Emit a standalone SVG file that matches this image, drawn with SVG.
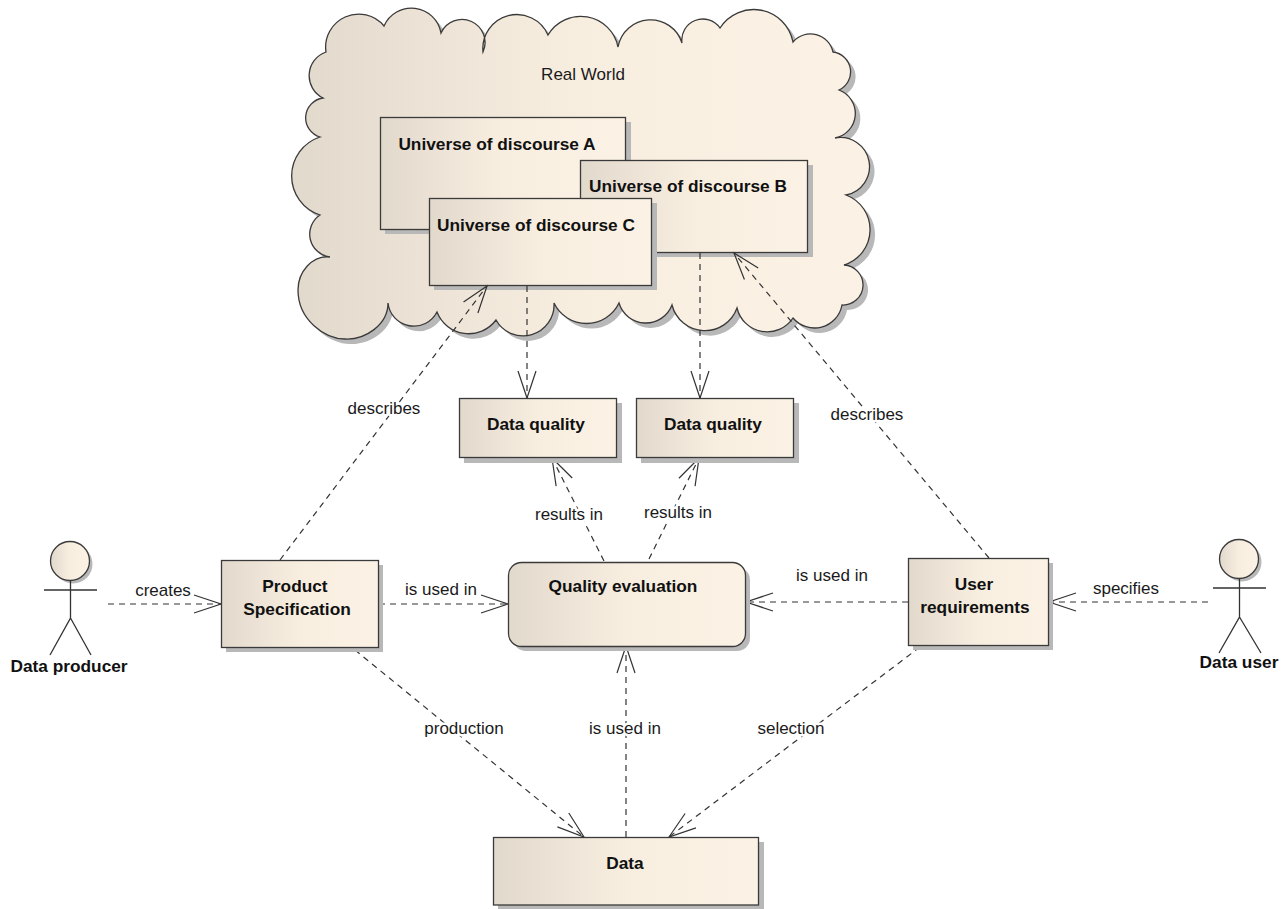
<svg xmlns="http://www.w3.org/2000/svg" width="1283" height="909" viewBox="0 0 1283 909">
<style>
text{font-family:"Liberation Sans",Arial,sans-serif;font-size:17px;fill:#1a1a1a;text-anchor:middle}
.b{font-weight:bold;font-size:17.3px;fill:#111}
.box{fill:url(#g);stroke:#3a3a3a;stroke-width:1.3}
.sh{fill:#b8b8b8;stroke:none}
.c{fill:none;stroke:#333;stroke-width:1.2;stroke-dasharray:6 5;marker-end:url(#arrow)}
.l{paint-order:stroke;stroke:#fff;stroke-width:5px;stroke-linejoin:round}
.a{fill:none;stroke:#333;stroke-width:1.3}
</style>
<defs>
<linearGradient id="g" x1="0" y1="0" x2="1" y2="0"><stop offset="0" stop-color="#e2d9cd"/><stop offset="0.5" stop-color="#f8eee0"/><stop offset="1" stop-color="#fbf2e5"/></linearGradient>
<marker id="arrow" markerUnits="userSpaceOnUse" markerWidth="32" markerHeight="24" refX="29" refY="12" orient="auto"><path d="M2,3 L29,12 L2,21" fill="none" stroke="#333" stroke-width="1.2"/></marker>
<path id="cloud" d="M326,52 A33,33 0 0 1 384,26 A30,30 0 0 1 441,33 A23,23 0 0 1 483,52 A34,34 0 0 1 548,35 A38,38 0 0 1 618,47 A33,33 0 0 1 682,43 A21,21 0 0 1 720,28 A40,40 0 0 1 793,42 A23,23 0 0 1 833,52 A20,20 0 0 1 839,90 A25,25 0 0 1 835,138 A29,29 0 0 1 846,195 A37,37 0 0 1 844,265 A20,20 0 0 1 842,305 A28,28 0 0 1 793,318 A31,31 0 0 1 737,308 A34,34 0 0 1 672,305 A28,28 0 0 1 619,303 A36,36 0 0 1 554,303 A31,31 0 0 1 496,320 A34,34 0 0 1 437,312 A26,26 0 0 1 388,303 C388,325 365,340 345,339 C325,339 298,320 298,290 C298,272 312,255 330,257 A23,23 0 0 1 320,215 A41,41 0 0 1 320,137 A20,20 0 0 1 323,98 A25,25 0 0 1 326,52 Z"/>
</defs>
<rect width="1283" height="909" fill="#fff"/>
<g id="real-world">
<use href="#cloud" x="5" y="5" class="sh"/>
<use href="#cloud" class="box"/>
<text x="583" y="80">Real World</text>
</g>
<g id="universe-a"><rect x="385" y="122" width="246" height="112" class="sh"/><rect x="380.500" y="117.500" width="245" height="112" class="box"/><text x="497" y="150" class="b">Universe of discourse A</text></g>
<g id="universe-b"><rect x="585" y="165" width="228" height="92" class="sh"/><rect x="580.500" y="160.500" width="227" height="92" class="box"/><text x="688" y="192" class="b">Universe of discourse B</text></g>
<g id="universe-c"><rect x="434" y="203" width="223" height="87" class="sh"/><rect x="429.500" y="198.500" width="222" height="87" class="box"/><text x="536" y="231" class="b">Universe of discourse C</text></g>
<g id="connectors">
<path class="c" d="M108,604H221"/>
<path class="c" d="M379,604H508"/>
<path class="c" d="M908,602H746"/>
<path class="c" d="M1208,602H1049"/>
<path class="c" d="M280,560L487,286"/>
<path class="c" d="M989,558L734,253"/>
<path class="c" d="M527,286V398"/>
<path class="c" d="M700,253V398"/>
<path class="c" d="M604,561L552,458"/>
<path class="c" d="M649,559L699,458"/>
<path class="c" d="M355,650L584,837"/>
<path class="c" d="M920,647L669,837"/>
<path class="c" d="M626,837V646"/>
</g>
<g id="connector-labels">
<text x="163" y="596">creates</text>
<text x="441" y="595">is used in</text>
<text x="832" y="581">is used in</text>
<text x="1126" y="594">specifies</text>
<text x="384" y="414" class="l">describes</text>
<text x="867" y="420" class="l">describes</text>
<text x="569" y="520" class="l">results in</text>
<text x="678" y="518" class="l">results in</text>
<text x="464" y="734" class="l">production</text>
<text x="791" y="734" class="l">selection</text>
<text x="625" y="734" class="l">is used in</text>
</g>
<g id="data-quality-1"><rect x="464" y="403" width="158" height="60" class="sh"/><rect x="459.500" y="398.500" width="157" height="59" class="box"/><text x="536" y="430" class="b">Data quality</text></g>
<g id="data-quality-2"><rect x="641" y="403" width="158" height="60" class="sh"/><rect x="636.500" y="398.500" width="157" height="59" class="box"/><text x="713" y="430" class="b">Data quality</text></g>
<g id="product-spec"><rect x="226" y="565" width="157" height="87" class="sh"/><rect x="221.500" y="560.500" width="157" height="87" class="box"/><text x="295" y="592" class="b">Product</text><text x="297" y="615" class="b">Specification</text></g>
<g id="quality-eval"><rect x="513" y="567" width="237" height="84" rx="13" class="sh"/><rect x="508.500" y="562.500" width="237" height="84" rx="13" class="box"/><text x="623" y="592" class="b">Quality evaluation</text></g>
<g id="user-req"><rect x="913" y="563" width="140" height="87" class="sh"/><rect x="908.500" y="558.500" width="140" height="87" class="box"/><text x="974" y="590" class="b">User</text><text x="975" y="613" class="b">requirements</text></g>
<g id="data"><rect x="498" y="842" width="266" height="67" class="sh"/><rect x="493.500" y="837.500" width="265" height="67.500" class="box"/><text x="625" y="869" class="b">Data</text></g>
<g id="data-producer"><circle cx="73" cy="564" r="19.500" class="sh"/><circle cx="70" cy="561" r="19.500" class="box"/><path class="a" d="M44,590H97M70.500,581V618L50,655M70.500,618L91,655"/><text x="69" y="672" class="b">Data producer</text></g>
<g id="data-user"><circle cx="1242" cy="562" r="19.500" class="sh"/><circle cx="1239" cy="559" r="19.500" class="box"/><path class="a" d="M1213,588H1266M1239.500,579V617L1219,653M1239.500,617L1261,653"/><text x="1239" y="668" class="b">Data user</text></g>
</svg>
